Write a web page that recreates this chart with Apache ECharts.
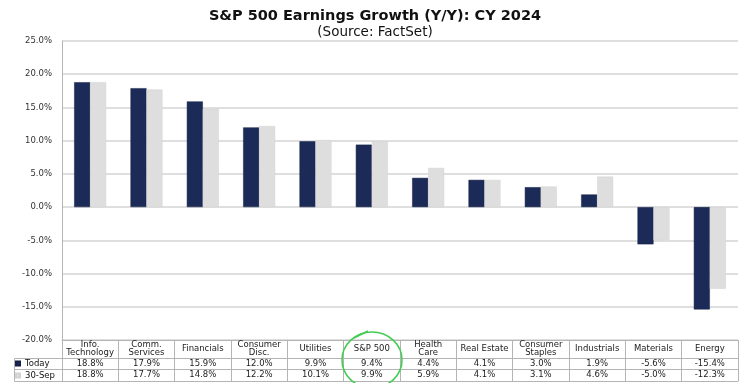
<!DOCTYPE html>
<html>
<head>
<meta charset="utf-8">
<script src="https://cdn.jsdelivr.net/npm/echarts@6/dist/echarts.min.js"></script>
<style>
html,body{margin:0;padding:0;background:#fff;}
#chart{width:750px;height:383px;}
</style>
</head>
<body>
<div id="chart"></div>
<script>
var categories = ['Info.\nTechnology','Comm.\nServices','Financials','Consumer\nDisc.','Utilities','S&P 500','Health\nCare','Real Estate','Consumer\nStaples','Industrials','Materials','Energy'];
var today = [18.8, 17.9, 15.9, 12.0, 9.9, 9.4, 4.4, 4.1, 3.0, 1.9, -5.6, -15.4];
var sep30 = [18.8, 17.7, 14.8, 12.2, 10.1, 9.9, 5.9, 4.1, 3.1, 4.6, -5.0, -12.3];
var seriesNames = ['Today', '30-Sep'];
var yTicks = {min: -20, max: 25, interval: 5};

var FONT = 'DejaVu Sans';
var lineC = '#b4b4b4';
var chart = echarts.init(document.getElementById('chart'), null, {renderer: 'canvas'});

function pct(v){ return v.toFixed(1) + '%'; }

var GRID_LEFT = 62, GRID_RIGHT = 12, GRID_TOP = 41, GRID_BOTTOM = 43;
var tableBottom = 381;

var option = {
  backgroundColor: '#fff',
  animation: false,
  title: {
    text: 'S&P 500 Earnings Growth (Y/Y): CY 2024',
    subtext: '(Source: FactSet)',
    left: 'center',
    top: 3,
    itemGap: 0,
    textStyle: {fontFamily: FONT, fontSize: 14.5, fontWeight: 'bold', color: '#111', lineHeight: 17},
    subtextStyle: {fontFamily: FONT, fontSize: 13.5, color: '#111', lineHeight: 15}
  },
  legend: {
    data: seriesNames,
    orient: 'vertical',
    left: 15,
    top: 359,
    itemWidth: 4,
    itemHeight: 4,
    itemGap: 3,
    padding: 0,
    icon: 'rect',
    selectedMode: false,
    textStyle: {fontFamily: FONT, fontSize: 8.5, color: '#111', lineHeight: 9}
  },
  grid: {left: GRID_LEFT, right: GRID_RIGHT, top: GRID_TOP, bottom: GRID_BOTTOM, containLabel: false},
  xAxis: [
    {
      type: 'category', data: categories, position: 'bottom',
      axisLine: {onZero: false, lineStyle: {color: lineC, width: 1}},
      axisTick: {show: true, interval: 0, inside: false, length: tableBottom - (383 - GRID_BOTTOM), lineStyle: {color: lineC, width: 1}},
      axisLabel: {interval: 0, margin: 9, verticalAlign: 'middle', fontFamily: FONT, fontSize: 8.5, lineHeight: 8.5, color: '#222'},
      splitLine: {show: false}
    },
    {
      type: 'category', data: categories, position: 'bottom', offset: 18,
      axisLine: {onZero: false, lineStyle: {color: lineC, width: 1}},
      axisTick: {show: false},
      axisLabel: {interval: 0, margin: 6, verticalAlign: 'middle', fontFamily: FONT, fontSize: 8.5, color: '#222',
        formatter: function(v, i){ return pct(today[i]); }},
      splitLine: {show: false}
    },
    {
      type: 'category', data: categories, position: 'bottom', offset: 29,
      axisLine: {onZero: false, lineStyle: {color: lineC, width: 1}},
      axisTick: {show: false},
      axisLabel: {interval: 0, margin: 6, verticalAlign: 'middle', fontFamily: FONT, fontSize: 8.5, color: '#222',
        formatter: function(v, i){ return pct(sep30[i]); }},
      splitLine: {show: false}
    },
    {
      type: 'category', data: categories, position: 'bottom', offset: 41,
      axisLine: {onZero: false, lineStyle: {color: lineC, width: 1}},
      axisTick: {show: false},
      axisLabel: {show: false},
      splitLine: {show: false}
    }
  ],
  yAxis: {
    type: 'value', min: yTicks.min, max: yTicks.max, interval: yTicks.interval,
    axisLine: {show: true, lineStyle: {color: lineC, width: 1}},
    axisTick: {show: false},
    axisLabel: {margin: 10, fontFamily: FONT, fontSize: 8.5, color: '#333', formatter: function(v){ return pct(v); }},
    splitLine: {show: true, lineStyle: {color: '#d4d4d4', width: 1.5}}
  },
  series: [
    {name: seriesNames[0], type: 'bar', xAxisIndex: 0, data: today, barWidth: 16, barGap: '0%',
     itemStyle: {color: '#1b2a57', borderColor: '#142045', borderWidth: 0.5}},
    {name: seriesNames[1], type: 'bar', xAxisIndex: 0, data: sep30, barWidth: 16, barGap: '0%',
     itemStyle: {color: '#dedede', borderColor: '#d2d2d2', borderWidth: 0.5}}
  ],
  graphic: [
    // left part of the data table (legend column)
    {type: 'line', shape: {x1: 14.5, y1: 358.5, x2: GRID_LEFT, y2: 358.5}, style: {stroke: lineC, lineWidth: 1}, silent: true},
    {type: 'line', shape: {x1: 14.5, y1: 369.5, x2: GRID_LEFT, y2: 369.5}, style: {stroke: lineC, lineWidth: 1}, silent: true},
    {type: 'line', shape: {x1: 14.5, y1: 381.5, x2: GRID_LEFT, y2: 381.5}, style: {stroke: lineC, lineWidth: 1}, silent: true},
    {type: 'line', shape: {x1: 14.5, y1: 358.5, x2: 14.5, y2: 381.5}, style: {stroke: lineC, lineWidth: 1}, silent: true},
    // hand-drawn green highlight
    {type: 'ellipse', shape: {cx: 372, cy: 360, rx: 30, ry: 28}, style: {fill: 'none', stroke: '#44cc55', lineWidth: 1.6}, silent: true, z: 100},
    {type: 'line', shape: {x1: 354, y1: 338, x2: 368, y2: 331}, style: {stroke: '#44cc55', lineWidth: 1.4}, silent: true, z: 100}
  ]
};
chart.setOption(option);
</script>
</body>
</html>
